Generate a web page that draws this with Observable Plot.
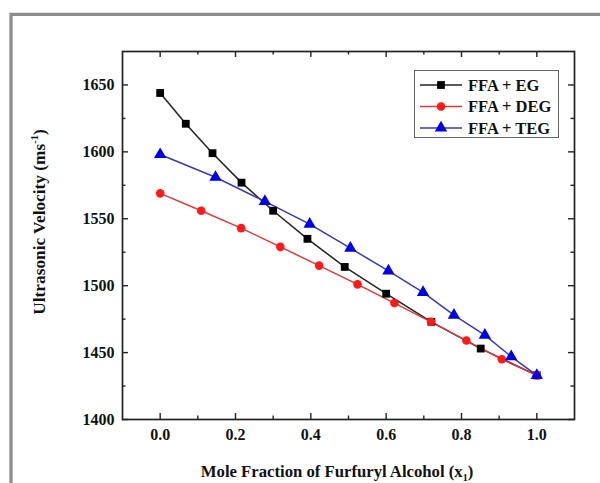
<!DOCTYPE html>
<html>
<head>
<meta charset="utf-8">
<script src="https://cdn.jsdelivr.net/npm/d3@7"></script>
<script src="https://cdn.jsdelivr.net/npm/@observablehq/plot@0.6"></script>
<style>
  html, body { margin: 0; padding: 0; background: #fff; }
  #chart { position: relative; width: 600px; height: 483px; overflow: hidden; }
</style>
</head>
<body>
<div id="chart"></div>
<script>
// ---- data ----
const seriesNames = ["FFA + EG", "FFA + DEG", "FFA + TEG"];
const egX  = [0, 0.068, 0.139, 0.216, 0.300, 0.391, 0.490, 0.600, 0.720, 0.851, 1.0];
const egY  = [1644, 1621, 1599, 1577, 1556, 1535, 1514, 1494, 1473, 1453, 1433];
const degX = [0, 0.109, 0.215, 0.319, 0.422, 0.524, 0.622, 0.719, 0.813, 0.907, 1.0];
const degY = [1569, 1556, 1543, 1529, 1515, 1501, 1487, 1473, 1459, 1445, 1433];
const tegX = [0, 0.147, 0.278, 0.397, 0.505, 0.606, 0.698, 0.780, 0.862, 0.932, 1.0];
const tegY = [1598, 1581, 1563, 1546, 1528, 1511, 1495, 1478, 1463, 1447, 1433];
const xMajor = [0, 0.2, 0.4, 0.6, 0.8, 1.0];
const xMinor = [0.1, 0.3, 0.5, 0.7, 0.9];
const yMajor = [1400, 1450, 1500, 1550, 1600, 1650];
const yMinor = [1425, 1475, 1525, 1575, 1625];
const xTitle = "Mole Fraction of Furfuryl Alcohol (x";
const yTitle = "Ultrasonic Velocity (ms";

// ---- styles ----
const lineColors = ["#222222", "#d83a3a", "#3838b0"];
const markColors = ["#000000", "#ff1a1a", "#0000e6"];
const symbols = ["square", "circle", "triangle"];
const radii = [4.4, 4.3, 4.6];

const rows = (xs, ys, s) => xs.map((x, i) => ({x, y: ys[i], s}));
const egData = rows(egX, egY, seriesNames[0]);
const degData = rows(degX, degY, seriesNames[1]);
const tegData = rows(tegX, tegY, seriesNames[2]);
const all = [egData, degData, tegData];

const W = 600, H = 483, mL = 122, mR = 26, mT = 51, mB = 64;
const ph = H - mT - mB, pw = W - mL - mR;
const FONT = "'Liberation Serif', 'Times New Roman', serif";

const marks = [
  Plot.axisX(xMajor, {tickSize: 0, tickPadding: 9, tickFormat: d3.format(".1f"), label: null, fontSize: 16, fontWeight: "bold"}),
  Plot.axisY(yMajor, {tickSize: 0, tickPadding: 8, tickFormat: d3.format("d"), label: null, fontSize: 16, fontWeight: "bold"}),
  // inward ticks on all four sides
  Plot.tickX(xMajor, {x: d => d, insetTop: ph - 6, stroke: "#222", strokeWidth: 1.4}),
  Plot.tickX(xMinor, {x: d => d, insetTop: ph - 3.5, stroke: "#222", strokeWidth: 1.4}),
  Plot.tickX(xMajor, {x: d => d, insetBottom: ph - 6, stroke: "#222", strokeWidth: 1.4}),
  Plot.tickX(xMinor, {x: d => d, insetBottom: ph - 3.5, stroke: "#222", strokeWidth: 1.4}),
  Plot.tickY(yMajor, {y: d => d, insetRight: pw - 6, stroke: "#222", strokeWidth: 1.4}),
  Plot.tickY(yMinor, {y: d => d, insetRight: pw - 3.5, stroke: "#222", strokeWidth: 1.4}),
  Plot.tickY(yMajor, {y: d => d, insetLeft: pw - 6, stroke: "#222", strokeWidth: 1.4}),
  Plot.tickY(yMinor, {y: d => d, insetLeft: pw - 3.5, stroke: "#222", strokeWidth: 1.4}),
  Plot.frame({stroke: "#222", strokeWidth: 1.7})
];
all.forEach((d, i) => {
  marks.push(Plot.line(d, {x: "x", y: "y", stroke: lineColors[i], strokeWidth: 1.5}));
});
all.forEach((d, i) => {
  marks.push(Plot.dot(d, {x: "x", y: "y", symbol: symbols[i], r: radii[i], fill: markColors[i], stroke: "none"}));
});

const svg = Plot.plot({
  width: W, height: H,
  marginLeft: mL, marginRight: mR, marginTop: mT, marginBottom: mB,
  x: {domain: [-0.1, 1.1]},
  y: {domain: [1400, 1675]},
  style: {fontFamily: FONT, fontWeight: "bold", fontSize: "16px", color: "#111", background: "transparent"},
  marks
});

const s = d3.select(svg);
// outer gray frame (top + left)
s.append("path").attr("d", `M11,${H + 5}V14.3H${W + 5}`)
  .attr("fill", "none").attr("stroke", "#8c8c8c").attr("stroke-width", 3.2);

// axis titles
const xt = s.append("text").attr("x", 337).attr("y", 477).attr("text-anchor", "middle")
  .attr("font-family", FONT).attr("font-weight", "bold").attr("font-size", 16.7).attr("fill", "#111");
xt.append("tspan").text(xTitle);
xt.append("tspan").attr("font-size", 10).attr("dy", 4).text("1");
xt.append("tspan").attr("dy", -4).text(")");

const yt = s.append("text").attr("transform", "translate(45,222) rotate(-90)").attr("text-anchor", "middle")
  .attr("font-family", FONT).attr("font-weight", "bold").attr("font-size", 17.3).attr("fill", "#111");
yt.append("tspan").text(yTitle);
yt.append("tspan").attr("font-size", 10.5).attr("dy", -7).text("-1");
yt.append("tspan").attr("dy", 7).text(")");

// legend
const lg = s.append("g").attr("text-anchor", "start");
lg.append("rect").attr("x", 414.5).attr("y", 70.5).attr("width", 144).attr("height", 67)
  .attr("fill", "#fff").attr("stroke", "#666").attr("stroke-width", 1);
const rowY = [85, 106.5, 128];
const sym = [d3.symbolSquare, d3.symbolCircle, d3.symbolTriangle];
seriesNames.forEach((name, i) => {
  const y = rowY[i];
  lg.append("line").attr("x1", 420).attr("x2", 462).attr("y1", y).attr("y2", y)
    .attr("stroke", lineColors[i]).attr("stroke-width", 1.5);
  lg.append("path").attr("transform", `translate(441,${y})`)
    .attr("d", d3.symbol(sym[i], Math.PI * radii[i] * radii[i])())
    .attr("fill", markColors[i]);
  lg.append("text").attr("x", 468).attr("y", y + 5.5).attr("text-anchor", "start")
    .attr("font-family", FONT).attr("font-weight", "bold").attr("font-size", 16.5).attr("fill", "#111")
    .text(name);
});

document.getElementById("chart").appendChild(svg);
</script>
</body>
</html>
